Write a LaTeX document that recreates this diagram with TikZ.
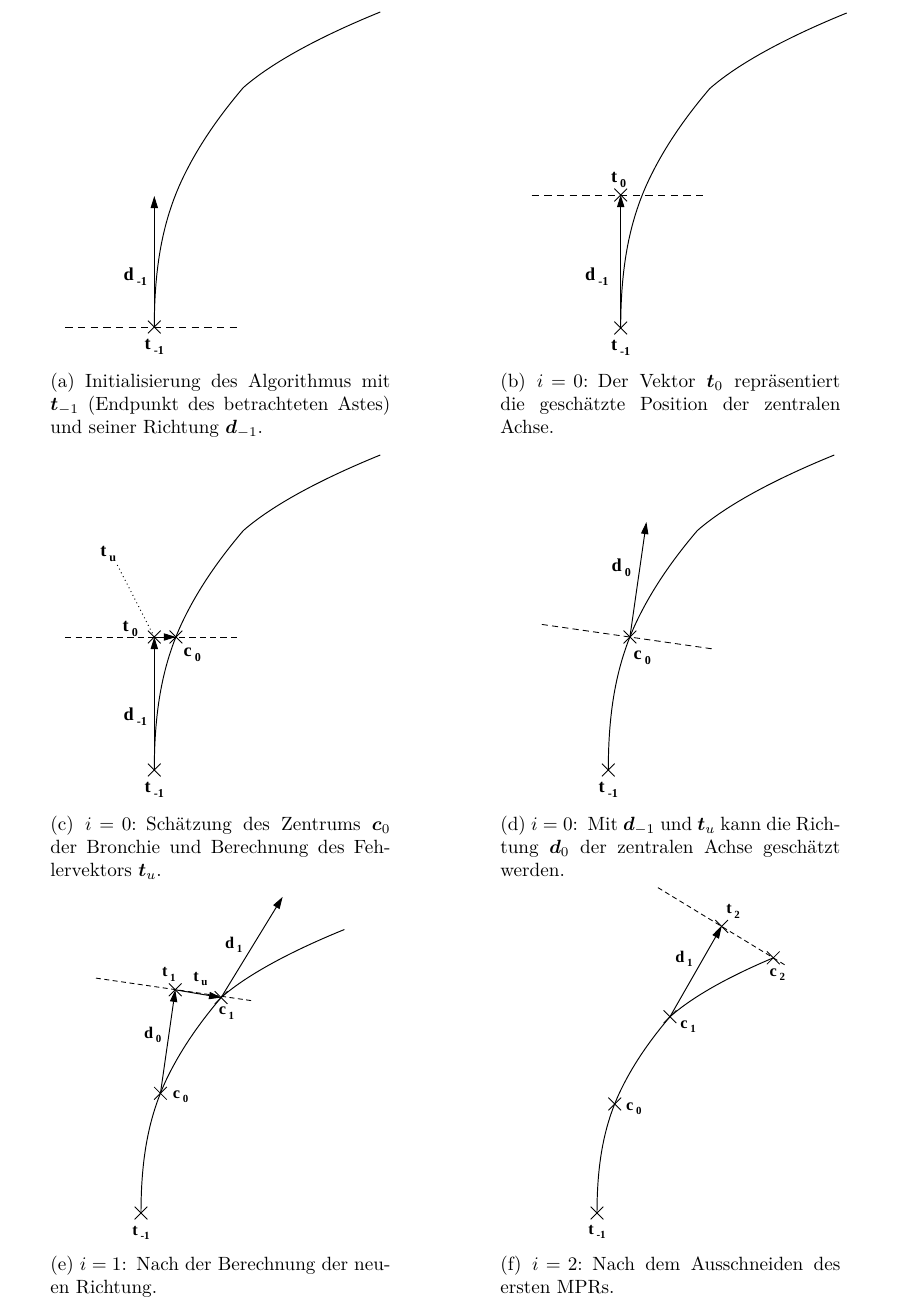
\documentclass[tikz,border=0pt]{standalone}
\usepackage{amsmath}
\usepackage{bm}
\usepackage{fontspec}
\newfontfamily\figfont{Liberation Serif}
\usetikzlibrary{arrows.meta,shapes.misc}

% figure labels like d_{-1}: big and small size
\newcommand{\fl}[2]{{\figfont\bfseries\fontsize{9.5}{10}\selectfont #1\,\raisebox{-2.6pt}{\fontsize{6.3}{7}\selectfont #2}}}
\newcommand{\fls}[2]{{\figfont\bfseries\fontsize{8.5}{9}\selectfont #1\,\raisebox{-2.3pt}{\fontsize{5.7}{6}\selectfont #2}}}
% the branch, from its end point t_{-1} at (0,0); #1 = last piece
\newcommand{\branch}[1]{%
  \draw[curve] (0,0) .. controls (0,-60) and (8.3,-108.7) .. (30.7,-153.4)
    .. controls (46.3,-184.7) and (66.3,-212.7) .. (89,-239.4) #1;}
\newcommand{\fulltip}{.. controls (122.8,-269.1) and (179.7,-296.2) .. (226,-315)}
% one justified caption line
\newcommand{\jl}[1]{\makebox[\linewidth][s]{\spaceskip=0.333em plus 0.6em minus 0.1em #1}}

\begin{document}
\begin{tikzpicture}[x=0.522pt, y=-0.522pt,
  curve/.style={line width=0.5pt, line join=round},
  vec/.style={line width=0.5pt, -{Triangle[length=6.3pt, width=3.8pt]}},
  kreuz/.style={draw, cross out, minimum size=6.2pt, inner sep=0pt, line width=0.45pt},
  plane/.style={line width=0.45pt, dash pattern=on 3.8pt off 2.8pt},
  dots/.style={line width=0.5pt, dash pattern=on 0.5pt off 1.7pt},
  lbl/.style={inner sep=0pt},
  subcap/.style={anchor=north west, inner sep=0pt, text width=177.5pt, align=left}]
  \useasboundingbox (0,0) rectangle (906,1302);

  % (a)
  \begin{scope}[shift={(154.3,327)}]
    \branch{\fulltip}
    \node[kreuz] (a-tm) at (0,0) {};
    \coordinate (a-d) at (0,-131);
    \draw[plane] (-89,0) -- (83,0);
    \draw[vec] (a-tm.center) -- (a-d);
    \node[lbl] at (-19,-50) {\fl{d}{-1}};
    \node[lbl] at (0,20) {\fl{t}{-1}};
  \end{scope}
  \node[subcap] (cap-a) at (50,373) {\jl{(a) Initialisierung des Algorithmus mit}\\
    \jl{$\bm{t}_{-1}$ (Endpunkt des betrachteten Astes)}\\
    und seiner Richtung $\bm{d}_{-1}$.};

  % (b)
  \begin{scope}[shift={(620.7,328)}]
    \branch{\fulltip}
    \node[kreuz] (b-tm) at (0,0) {};
    \node[kreuz] (b-t0) at (0,-133) {};
    \draw[plane] (-89,-133) -- (83,-133);
    \draw[vec] (b-tm.center) -- (b-t0.center);
    \node[lbl] at (-2,-148) {\fl{t}{0}};
    \node[lbl] at (-24,-51) {\fl{d}{-1}};
    \node[lbl] at (0,20) {\fl{t}{-1}};
  \end{scope}
  \node[subcap] (cap-b) at (500,373) {\jl{(b) $i = 0$: Der Vektor $\bm{t}_0$ repräsentiert}\\
    \jl{die geschätzte Position der zentralen}\\
    Achse.};

  % (c)
  \begin{scope}[shift={(154.3,770)}]
    \branch{\fulltip}
    \node[kreuz] (c-tm) at (0,0) {};
    \node[kreuz] (c-t0) at (0,-133) {};
    \node[kreuz] (c-c0) at (21.6,-133) {};
    \coordinate (c-tu) at (-37,-205);
    \draw[plane, dash pattern=on 3.2pt off 2.2pt] (-89,-133) -- (83,-133);
    \draw[dots] (c-t0.center) -- (c-tu);
    \draw[vec] (c-tm.center) -- (c-t0.center);
    \draw[vec] (c-t0.center) -- (c-c0.center);
    \node[lbl] at (-46,-216) {\fl{t}{u}};
    \node[lbl] at (-24,-141) {\fl{t}{0}};
    \node[lbl] at (38,-115) {\fl{c}{0}};
    \node[lbl] at (-19,-53) {\fl{d}{-1}};
    \node[lbl] at (0,20) {\fl{t}{-1}};
  \end{scope}
  \node[subcap] (cap-c) at (50,816) {\jl{(c) $i = 0$: Schätzung des Zentrums $\bm{c}_0$}\\
    \jl{der Bronchie und Berechnung des Feh-}\\
    lervektors $\bm{t}_u$.};

  % (d)
  \begin{scope}[shift={(608.3,770)}]
    \branch{\fulltip}
    \node[kreuz] (d-tm) at (0,0) {};
    \node[kreuz] (d-c0) at (21.6,-133) {};
    \coordinate (d-d0) at (38.1,-248);
    \draw[plane, dash pattern=on 3.2pt off 2.2pt] (-66.5,-145.6) -- (105.7,-120.9);
    \draw[vec] (d-c0.center) -- (d-d0);
    \node[lbl] at (13,-202) {\fl{d}{0}};
    \node[lbl] at (34,-112) {\fl{c}{0}};
    \node[lbl] at (0,20) {\fl{t}{-1}};
  \end{scope}
  \node[subcap] (cap-d) at (500,816) {\jl{(d) $i=0$: Mit $\bm{d}_{-1}$ und $\bm{t}_u$ kann die Rich-}\\
    \jl{tung $\bm{d}_0$ der zentralen Achse geschätzt}\\
    werden.};

  % (e)
  \begin{scope}[shift={(141,1213)}, scale=0.9]
    \branch{\fulltip}
    \node[kreuz] (e-tm) at (0,0) {};
    \node[kreuz] (e-c0) at (21.6,-133) {};
    \node[kreuz] (e-t1) at (38.1,-248) {};
    \node[kreuz] (e-c1) at (89,-239.4) {};
    \coordinate (e-d1) at (157.4,-351.3);
    \draw[plane, dash pattern=on 2.6pt off 1.8pt] (-50,-261) -- (126,-235.5);
    \draw[vec] (e-c0.center) -- (e-t1.center);
    \draw[vec] (e-t1.center) -- (e-c1.center);
    \draw[vec] (e-c1.center) -- (e-d1);
    \node[lbl] at (31,-265) {\fls{t}{1}};
    \node[lbl] at (66,-260) {\fls{t}{u}};
    \node[lbl] at (95,-222) {\fls{c}{1}};
    \node[lbl] at (103,-298) {\fls{d}{1}};
    \node[lbl] at (13,-198) {\fls{d}{0}};
    \node[lbl] at (44,-129) {\fls{c}{0}};
    \node[lbl] at (0,22) {\fls{t}{-1}};
  \end{scope}
  \node[subcap] (cap-e) at (50,1256) {\jl{(e) $i=1$: Nach der Berechnung der neu-}\\
    en Richtung.};

  % (f)
  \begin{scope}[shift={(597,1213)}, scale=0.82]
    \branch{.. controls (122.8,-269.1) and (173.6,-293.7) .. (215,-311.2)}
    \node[kreuz] (f-tm) at (0,0) {};
    \node[kreuz] (f-c0) at (21.6,-133) {};
    \node[kreuz] (f-c1) at (89,-239.4) {};
    \node[kreuz] (f-t2) at (152,-349.5) {};
    \node[kreuz] (f-c2) at (215,-311.2) {};
    \draw[plane, dash pattern=on 2.6pt off 1.8pt] (74.3,-396.8) -- (228.9,-302.7);
    \draw[vec] (f-c1.center) -- (f-t2.center);
    \node[lbl] at (166,-368) {\fls{t}{2}};
    \node[lbl] at (106,-310) {\fls{d}{1}};
    \node[lbl] at (220,-291) {\fls{c}{2}};
    \node[lbl] at (111,-227) {\fls{c}{1}};
    \node[lbl] at (45,-127) {\fls{c}{0}};
    \node[lbl] at (0,23) {\fls{t}{-1}};
  \end{scope}
  \node[subcap] (cap-f) at (500,1256) {\jl{(f) $i = 2$: Nach dem Ausschneiden des}\\
    ersten MPRs.};
\end{tikzpicture}
\end{document}
